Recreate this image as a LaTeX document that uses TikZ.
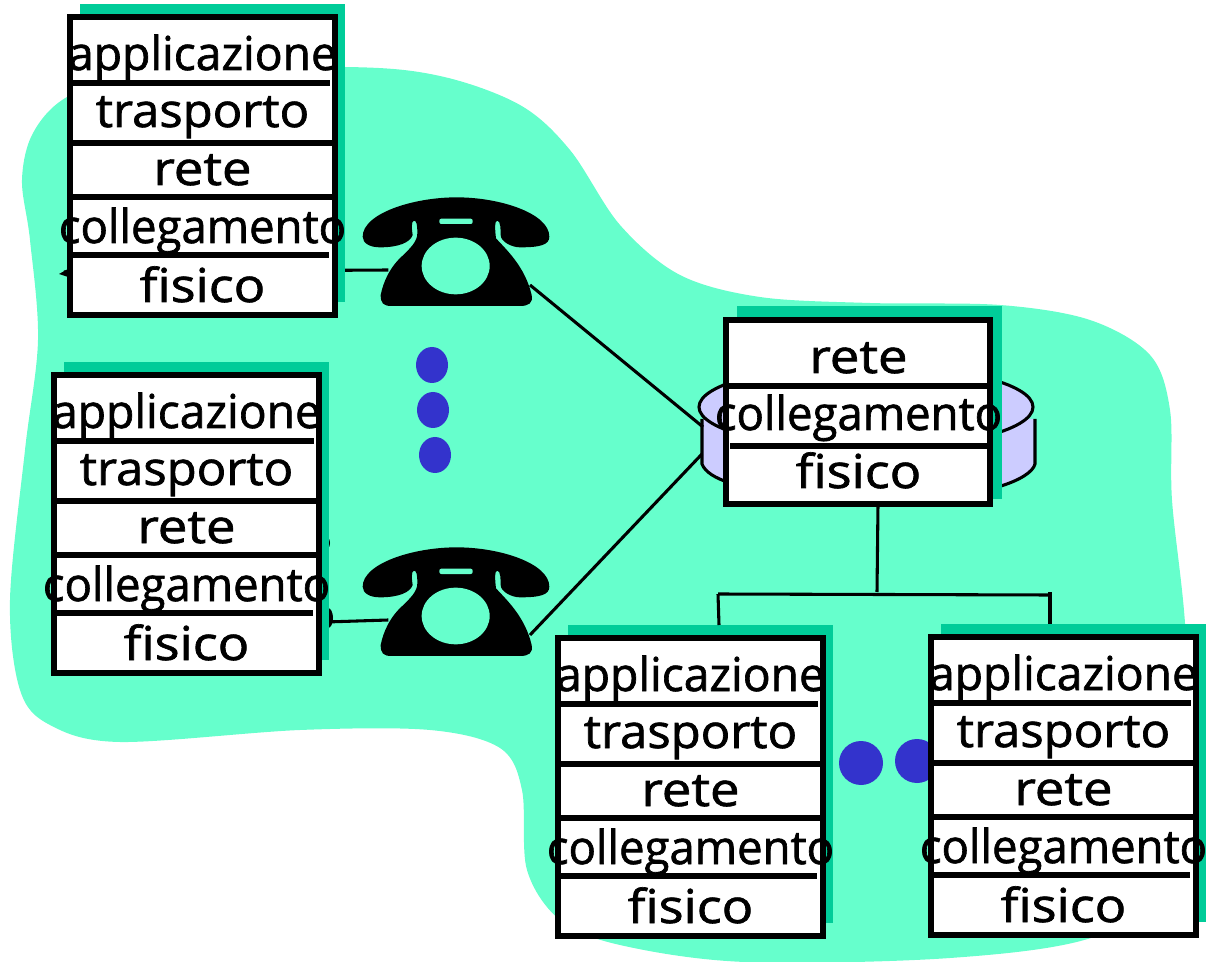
\documentclass[tikz,border=0pt]{standalone}
\usepackage{fontspec}
\setmainfont[RawFeature={embolden=1.4}]{Open Sans}
\definecolor{netgreen}{HTML}{66FFCC}
\definecolor{shadowgreen}{HTML}{00CC99}
\definecolor{dotblue}{HTML}{3333CC}
\definecolor{diskblue}{HTML}{CCCCFF}
\tikzset{
  stackshadow/.style={fill=shadowgreen},
  stackbox/.style={draw=black,fill=white,line width=4.5pt},
  layerline/.style={draw=black,line width=3.8pt},
  layertext/.style={anchor=base,inner sep=0pt,font=\fontsize{35}{35}\selectfont},
  wire/.style={draw=black,line width=2.3pt},
  phone/.pic={
    \fill[black] (-277,-40) .. controls (-277,-110) and (-125,-158) .. (5,-158)
      .. controls (135,-158) and (283,-110) .. (283,-40)
      .. controls (283,-15) and (255,-8) .. (195,-8)
      .. controls (170,-8) and (137,-25) .. (137,-45)
      .. controls (137,-60) and (137,-88) .. (127,-88)
      .. controls (118,-88) and (120,-60) .. (123,-35)
      .. controls (155,0) and (210,50) .. (230,135)
      .. controls (235,160) and (220,168) .. (195,168)
      -- (-190,168)
      .. controls (-215,168) and (-223,160) .. (-223,135)
      .. controls (-215,95) and (-195,50) .. (-155,15)
      .. controls (-135,-5) and (-113,-25) .. (-113,-50)
      .. controls (-113,-75) and (-115,-88) .. (-123,-88)
      .. controls (-132,-88) and (-130,-60) .. (-127,-45)
      .. controls (-135,-22) and (-170,-8) .. (-225,-8)
      .. controls (-255,-8) and (-277,-20) .. (-277,-40) -- cycle;
    \fill[netgreen] (2,48) ellipse [x radius=102,y radius=85];
    \fill[netgreen,rounded corners=1.5pt] (-47,-94) rectangle (53,-78);
    \coordinate (-left) at (-200,60);
    \coordinate (-right) at (225,105);
  }
}
\newcommand{\hoststack}[3]{%
  \begin{scope}[shift={(#2,#3)}]
    \fill[stackshadow] (10,-13) rectangle (275,285);
    \draw[stackbox] (0,0) rectangle (265,298);
    \draw[layerline] (0,66) -- (260,66);
    \draw[layerline] (2,126) -- (265,126);
    \draw[layerline] (2,180) -- (265,180);
    \draw[layerline] (0,238) -- (259,238);
    \foreach \lname/\ltext/\lbase/\lwide in {app/applicazione/53/0.99,tra/trasporto/110/1.05,ret/rete/168/1.13,col/collegamento/226/0.975,fis/fisico/285/1.12} {
      \node[layertext] (#1\lname) at (132.5,\lbase) {\scalebox{\lwide}[1]{\ltext}};
    }
  \end{scope}}
\begin{document}
\begin{tikzpicture}[x=0.75pt,y=-0.75pt]
  \useasboundingbox (0,0) rectangle (1211,962);
  % network cloud
  \fill[netgreen] plot[smooth cycle,tension=0.55] coordinates {
    (22,180) (33,133) (67,97) (140,72) (345,67) (440,76) (520,105) (570,150)
    (620,225) (680,275) (760,297) (870,303) (1000,305) (1090,320) (1150,355)
    (1170,410) (1172,500) (1185,623) (1192,780) (1180,880) (1094,937) (950,958)
    (745,962) (620,945) (560,920) (527,870) (522,790) (500,748) (430,730)
    (300,730) (120,742) (50,725) (20,690) (10,600) (25,450) (38,340) (30,240)
  };
  % router disk
  \fill[diskblue] (702,419) -- (702,464) .. controls (705,472) and (715,478) .. (730,483)
    -- (1001,486) .. controls (1020,480) and (1033,472) .. (1035,464) -- (1035,419) -- cycle;
  \draw[wire] (702,419) -- (702,464) .. controls (705,472) and (715,478) .. (730,483);
  \draw[wire] (1035,419) -- (1035,464) .. controls (1033,472) and (1020,480) .. (1001,486);
  \draw[wire,fill=diskblue] (866,407) ellipse [x radius=167,y radius=42];
  \coordinate (diskA) at (703,427);
  \coordinate (diskB) at (702,454);
  % phones and their lines
  \pic[scale=0.3333] (phoneA) at (455,250) {phone};
  \pic[scale=0.3333] (phoneB) at (455,600) {phone};
  \coordinate (jackA) at (64,272);
  \coordinate (jackB) at (326,622);
  \draw[wire] (jackA) -- (phoneA-left);
  \draw[wire] (jackB) -- (phoneB-left);
  \fill[black] (59,274) -- (68,269) -- (68,277) -- cycle;
  \fill[black] (328,618) ellipse [x radius=5,y radius=10];
  \fill[black] (328,543) ellipse [x radius=2,y radius=5];
  \draw[wire] (phoneA-right) -- (diskA);
  \draw[wire] (phoneB-right) -- (diskB);
  % dots
  \foreach \x/\y in {432/365,433/410,435/455} {
    \fill[dotblue] (\x,\y) ellipse [x radius=16,y radius=18];
  }
  \foreach \x/\y in {861/763,917/761} {
    \fill[dotblue] (\x,\y) circle (22);
  }
  % stacks
  \hoststack{hostA}{70}{17}
  \hoststack{hostB}{54}{375}
  \hoststack{hostC}{558}{638}
  \hoststack{hostD}{931}{637}
  % router
  \fill[stackshadow] (737,306) rectangle (1002,499);
  \draw[stackbox] (726,320) rectangle (990,504);
  \draw[layerline] (726,386) -- (990,386);
  \draw[layerline] (730,446) -- (990,446);
  \foreach \lname/\ltext/\lbase/\lwide in {ret/rete/373/1.13,col/collegamento/430/0.975,fis/fisico/488/1.12} {
    \node[layertext] (router\lname) at (858.5,\lbase) {\scalebox{\lwide}[1]{\ltext}};
  }
  % bus below the router
  \coordinate (busL) at (718,594);
  \coordinate (busR) at (1050,595);
  \coordinate (busM) at (877,592);
  \coordinate (dropR) at (1050,592);
  \draw[wire] (878,505) -- (busM);
  \draw[wire] (busL) -- (busR);
  \draw[wire] (busL) -- (719,625);
  \draw[wire] (dropR) -- (1050,624);
\end{tikzpicture}
\end{document}
